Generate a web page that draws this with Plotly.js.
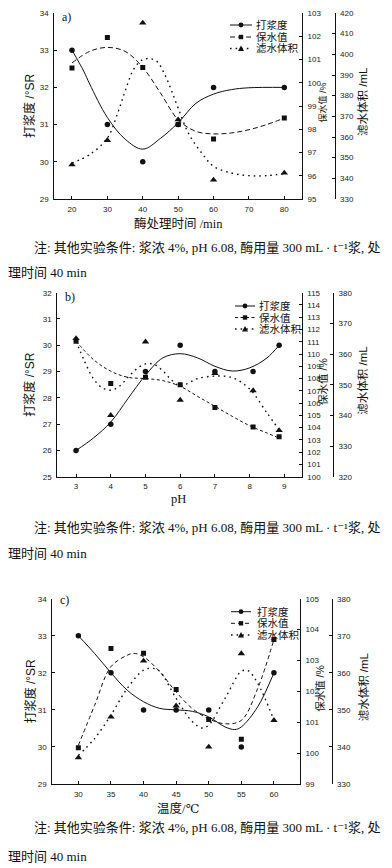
<!DOCTYPE html>
<html><head><meta charset="utf-8">
<script src="https://cdn.plot.ly/plotly-3.0.1.min.js"></script>
<style>html,body{margin:0;padding:0;background:#fff;}#chart{width:392px;height:868px;}</style>
</head><body><div id="chart"></div>
<script>
// ---------- Panel a: enzyme treatment time ----------
const timeMin = [20, 30, 40, 50, 60, 80];
const beatA = [33, 31, 30, 31, 32, 32];
const wrvA = [100.63, 101.95, 100.66, 98.2, 97.58, 98.48];
const drainA = [346.6, 358.4, 415.2, 368.4, 339.2, 342.6];
const fitBeatAx = [20, 23.3, 25, 30, 35, 40, 45, 50, 55, 60, 65, 70, 80];
const fitBeatAy = [33, 32.44, 32.09, 31.19, 30.61, 30.34, 30.63, 31.05, 31.57, 31.82, 31.94, 31.99, 32];
const fitWrvAx = [20, 25, 30, 35, 40, 45, 50, 55, 60, 65, 70, 75, 80];
const fitWrvAy = [100.85, 101.35, 101.52, 101.35, 100.66, 99.56, 98.41, 97.91, 97.8, 97.84, 97.98, 98.2, 98.48];
const fitDrainAx = [20, 25, 30, 33, 35, 37.5, 40, 42, 44, 46, 48, 50, 53, 57, 60, 65, 70, 75, 80];
const fitDrainAy = [347.4, 351.5, 359.5, 372, 382.1, 393, 397.4, 397.9, 396.6, 391, 383, 374, 361.5, 351.5, 345.8, 342.6, 341.3, 341.3, 342.3];

// ---------- Panel b: pH ----------
const phVals = [3, 4, 5, 6, 7, 8.1, 8.85];
const beatB = [26, 27, 29, 30, 29, 29, 30];
const wrvB = [111.05, 107.59, 108.1, 107.5, 105.65, 104.05, 103.25];
const drainB = [365.1, 340, 364, 345, 353.7, 348.1, 335.1];
const fitBeatBx = [3, 3.5, 4, 4.5, 5, 5.5, 6, 6.5, 7, 7.5, 8, 8.5, 8.85];
const fitBeatBy = [26, 26.47, 27.08, 27.98, 28.86, 29.52, 29.68, 29.52, 29.2, 29.02, 29.14, 29.52, 30];
const fitWrvBx = [3, 3.5, 4, 4.5, 5, 5.5, 6, 6.5, 7, 7.5, 8, 8.5, 8.85];
const fitWrvBy = [111.05, 109.55, 108.6, 108.1, 108.0, 107.83, 107.37, 106.55, 105.74, 104.92, 104.16, 103.56, 103.15];
const fitDrainBx = [3, 3.25, 3.5, 3.75, 4, 4.25, 4.5, 4.75, 5, 5.25, 5.5, 5.75, 6, 6.25, 6.5, 7, 7.5, 8, 8.5, 8.85];
const fitDrainBy = [364.2, 357.5, 352, 349, 348.2, 349.5, 352.5, 355.2, 356.8, 356.6, 354.5, 351.5, 349.5, 350.6, 352, 352.8, 352.3, 348.6, 340.8, 335.3];

// ---------- Panel c: temperature ----------
const tempC = [30, 35, 40, 45, 50, 55, 60];
const beatC = [33, 32, 31, 31, 31, 30, 32];
const wrvC = [100.17, 103.39, 103.23, 102.06, 101.09, 100.45, 103.68];
const drainC = [337.1, 348.1, 363.2, 351.1, 340, 365.2, 347.2];
const fitBeatCx = [30, 32.5, 35, 37.5, 40, 42.5, 45, 47.5, 50, 52.5, 54, 55, 57.5, 60];
const fitBeatCy = [33, 32.52, 32, 31.53, 31.22, 31.04, 31.0, 30.96, 30.81, 30.54, 30.47, 30.54, 31.08, 32];
const fitWrvCx = [30, 32.5, 35, 37.5, 38.5, 40, 42.5, 45, 47.5, 50, 52.5, 55, 57.5, 60];
const fitWrvCy = [100.25, 101.55, 102.8, 103.17, 103.23, 103.12, 102.63, 101.98, 101.44, 101.11, 100.95, 101.06, 102.09, 103.68];
const fitDrainCx = [30, 32.5, 35, 37.5, 40, 41.5, 42.5, 45, 47.5, 49, 50, 52.5, 55, 56, 57.5, 60];
const fitDrainCy = [337.7, 342.3, 348.6, 355.8, 360.7, 361.2, 360.4, 353.1, 346.8, 345.1, 345.9, 353.1, 360.4, 360.6, 357.2, 347.2];

// ---------- labels ----------
const seriesNames = ['打浆度', '保水值', '滤水体积'];
const leftTitle = '打浆度 /°SR';
const rightTitle1 = '保水值 /%';
const rightTitle2 = '滤水体积 /mL';
const xTitles = ['酶处理时间 /min', 'pH', '温度/℃'];
const panelTags = ['a)', 'b)', 'c)'];
const noteLine1 = '注: 其他实验条件: 浆浓 4%, pH 6.08, 酶用量 300 mL · t⁻¹浆, 处';
const noteLine2 = '理时间 40 min';
const timeTicks = [20, 30, 40, 50, 60, 70, 80];
const phTicks = [3, 4, 5, 6, 7, 8, 9];
const tempTicks = [30, 35, 40, 45, 50, 55, 60];

// ---------- geometry (px) ----------
const W = 392, H = 868;
const X = p => p / W, Y = p => 1 - p / H;
const panels = [
  {l: 54.3, r: 302, t: 13, b: 199, r2: 334.5, xr: [15, 85], ticks: timeTicks,
   y1: [29, 34], y2: [95, 103], y3: [330, 420], d3: 10, dash: '5px,3px',
   xtY: 223, n1: 247, n2: 273, leg: {x0: 230, x1: 252, tx: 254, ys: [25, 37, 48.5]}, tag: [60, 17],
   rt1: 9, rt2: 11.5},
  {l: 57.3, r: 301.7, t: 292.7, b: 476.7, r2: 333, xr: [2.46, 9.5], ticks: phTicks,
   y1: [25, 32], y2: [100, 115], y3: [320, 380], d3: 10, dash: '3px,2.5px',
   xtY: 499, n1: 527, n2: 553, leg: {x0: 235, x1: 255, tx: 257, ys: [306, 317.5, 329]}, tag: [63, 297],
   rt1: 10.5, rt2: 11.5},
  {l: 52.3, r: 300, t: 598.7, b: 784, r2: 331.5, xr: [26, 64], ticks: tempTicks,
   y1: [29, 34], y2: [99, 105], y3: [330, 380], d3: 10, dash: '4px,3px',
   xtY: 808, n1: 827, n2: 856, leg: {x0: 231, x1: 251, tx: 255, ys: [611.7, 623.3, 635]}, tag: [58, 600],
   rt1: 10.5, rt2: 11.5}
];

const ptsX = [timeMin, phVals, tempC];
const ptsBeat = [beatA, beatB, beatC];
const ptsWrv = [wrvA, wrvB, wrvC];
const ptsDrain = [drainA, drainB, drainC];
const fits = [
  [[fitBeatAx, fitBeatAy], [fitWrvAx, fitWrvAy], [fitDrainAx, fitDrainAy]],
  [[fitBeatBx, fitBeatBy], [fitWrvBx, fitWrvBy], [fitDrainBx, fitDrainBy]],
  [[fitBeatCx, fitBeatCy], [fitWrvCx, fitWrvCy], [fitDrainCx, fitDrainCy]]
];

const tickFont = {family: 'Liberation Sans, Arial, sans-serif', size: 8, color: '#222'};
const sansCJK = 'Liberation Sans, Arial, Noto Sans CJK SC, sans-serif';
const serifCJK = 'Liberation Serif, DejaVu Serif, Noto Sans CJK SC, serif';
const DOT = '1.6px,4px';

const traces = [];
const layout = {
  width: W, height: H, margin: {l: 0, r: 0, t: 0, b: 0},
  paper_bgcolor: '#fff', plot_bgcolor: 'rgba(0,0,0,0)', showlegend: false,
  annotations: [], shapes: []
};

const baseAxis = {
  showline: true, linecolor: '#111', linewidth: 1, showgrid: false, zeroline: false,
  ticks: 'inside', ticklen: 3, tickcolor: '#111', tickwidth: 1, tickfont: tickFont, fixedrange: true
};

panels.forEach((p, i) => {
  const xn = i === 0 ? 'x' : 'x' + (i + 1);
  const y1n = i * 3 + 1, y2n = i * 3 + 2, y3n = i * 3 + 3;
  const yid = n => n === 1 ? 'y' : 'y' + n;
  const xKey = i === 0 ? 'xaxis' : 'xaxis' + (i + 1);
  const yKey = n => n === 1 ? 'yaxis' : 'yaxis' + n;
  const ydom = [Y(p.b), Y(p.t)];

  layout[xKey] = Object.assign({}, baseAxis, {
    domain: [X(p.l), X(p.r)], range: p.xr, anchor: yid(y1n),
    tickmode: 'array', tickvals: p.ticks, ticklabelstandoff: 2
  });
  layout[yKey(y1n)] = Object.assign({}, baseAxis, {
    domain: ydom, range: p.y1, dtick: 1, anchor: xn, side: 'left', ticklabelstandoff: 3
  });
  layout[yKey(y2n)] = Object.assign({}, baseAxis, {
    domain: ydom, range: p.y2, dtick: 1, anchor: xn, side: 'right', overlaying: yid(y1n), ticklabelstandoff: 3
  });
  layout[yKey(y3n)] = Object.assign({}, baseAxis, {
    domain: ydom, range: p.y3, dtick: p.d3, anchor: 'free', position: X(p.r2), side: 'right',
    overlaying: yid(y1n), ticklabelstandoff: 3
  });

  const xs = ptsX[i];
  const series = [
    {y: ptsBeat[i], ax: yid(y1n), sym: 'circle', size: 5.5, dash: 'solid'},
    {y: ptsWrv[i], ax: yid(y2n), sym: 'square', size: 5, dash: p.dash},
    {y: ptsDrain[i], ax: yid(y3n), sym: 'triangle-up', size: 6.5, dash: DOT}
  ];
  series.forEach((s, k) => {
    const f = fits[i][k];
    traces.push({
      x: f[0], y: f[1], xaxis: xn, yaxis: s.ax, type: 'scatter', mode: 'lines',
      line: {color: '#111', width: k === 2 ? 1.4 : 1, dash: s.dash, shape: 'spline', smoothing: 1},
      hoverinfo: 'skip', name: seriesNames[k] + ' 拟合'
    });
    traces.push({
      x: xs, y: s.y, xaxis: xn, yaxis: s.ax, type: 'scatter', mode: 'markers',
      marker: {color: '#111', symbol: s.sym, size: s.size}, name: seriesNames[k]
    });
  });

  // axis titles
  const midY = (p.t + p.b) / 2;
  layout.annotations.push(
    {text: leftTitle, xref: 'paper', yref: 'paper', x: X(30), y: Y(midY), textangle: -90,
     showarrow: false, xanchor: 'center', yanchor: 'middle', font: {family: sansCJK, size: 12, color: '#111'}},
    {text: rightTitle1, xref: 'paper', yref: 'paper', x: X(p.r + 20.5), y: Y(midY - 3), textangle: -90,
     showarrow: false, xanchor: 'center', yanchor: 'middle', font: {family: sansCJK, size: p.rt1, color: '#111'}},
    {text: rightTitle2, xref: 'paper', yref: 'paper', x: X(363), y: Y(midY - 4), textangle: -90,
     showarrow: false, xanchor: 'center', yanchor: 'middle', font: {family: sansCJK, size: p.rt2, color: '#111'}},
    {text: xTitles[i], xref: 'paper', yref: 'paper', x: X(178), y: Y(p.xtY),
     showarrow: false, xanchor: 'center', yanchor: 'middle', font: {family: serifCJK, size: 12.5, color: '#111'}},
    {text: panelTags[i], xref: 'paper', yref: 'paper', x: X(p.tag[0]), y: Y(p.tag[1]),
     showarrow: false, xanchor: 'left', yanchor: 'middle', font: {family: serifCJK, size: 12, color: '#111'}},
    {text: noteLine1, xref: 'paper', yref: 'paper', x: X(32), y: Y(p.n1),
     showarrow: false, xanchor: 'left', yanchor: 'middle', font: {family: serifCJK, size: 13, color: '#111'}},
    {text: noteLine2, xref: 'paper', yref: 'paper', x: X(6), y: Y(p.n2),
     showarrow: false, xanchor: 'left', yanchor: 'middle', font: {family: serifCJK, size: 13, color: '#111'}}
  );

  // manual legend
  const lg = p.leg;
  const dashes = ['solid', p.dash, DOT];
  lg.ys.forEach((yy, k) => {
    layout.shapes.push({type: 'line', xref: 'paper', yref: 'paper', x0: X(lg.x0), x1: X(lg.x1), y0: Y(yy), y1: Y(yy),
      line: {color: '#111', width: k === 2 ? 1.4 : 1, dash: dashes[k]}});
    const cx = (lg.x0 + lg.x1) / 2;
    if (k === 0) {
      layout.shapes.push({type: 'circle', xref: 'paper', yref: 'paper', x0: X(cx - 2.4), x1: X(cx + 2.4),
        y0: Y(yy + 2.4), y1: Y(yy - 2.4), fillcolor: '#111', line: {width: 0}});
    } else if (k === 1) {
      layout.shapes.push({type: 'rect', xref: 'paper', yref: 'paper', x0: X(cx - 2.2), x1: X(cx + 2.2),
        y0: Y(yy + 2.2), y1: Y(yy - 2.2), fillcolor: '#111', line: {width: 0}});
    } else {
      const path = 'M ' + X(cx - 3) + ' ' + Y(yy + 2.4) + ' L ' + X(cx + 3) + ' ' + Y(yy + 2.4) +
        ' L ' + X(cx) + ' ' + Y(yy - 3) + ' Z';
      layout.shapes.push({type: 'path', xref: 'paper', yref: 'paper', path: path, fillcolor: '#111', line: {width: 0}});
    }
    layout.annotations.push({text: seriesNames[k], xref: 'paper', yref: 'paper', x: X(lg.tx), y: Y(yy),
      showarrow: false, xanchor: 'left', yanchor: 'middle', font: {family: serifCJK, size: 10.5, color: '#111'}});
  });
});

Plotly.newPlot('chart', traces, layout, {staticPlot: true, displayModeBar: false});
</script>
</body></html>
